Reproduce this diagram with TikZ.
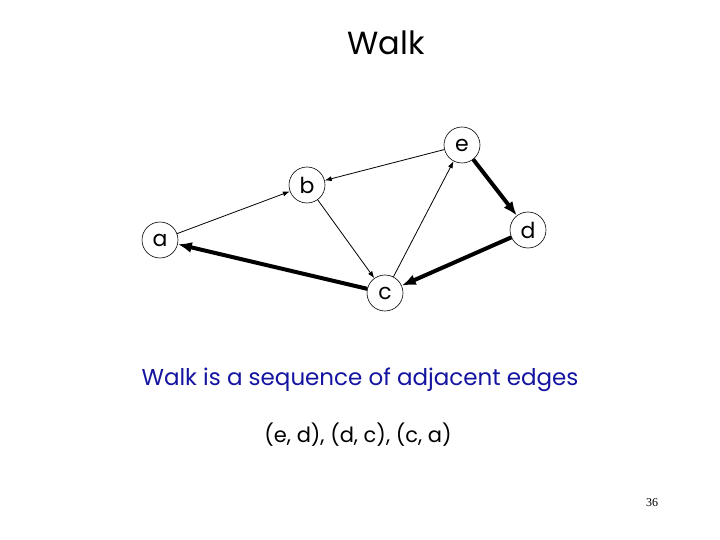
\documentclass[tikz,border=0pt]{standalone}
\usepackage{fontspec}
\setmainfont{Poppins}
\newfontfamily\numfont{Liberation Serif}
\usetikzlibrary{arrows.meta}
\definecolor{txtblue}{RGB}{20,20,160}
\begin{document}
\begin{tikzpicture}[x=1pt,y=-1pt,
  vert/.style={circle,draw,line width=0.6pt,minimum size=36pt,inner sep=0pt,font=\fontsize{22}{24}\selectfont},
  thin/.style={-{Latex[length=7pt,width=5pt]},line width=0.8pt},
  thick/.style={-{Latex[length=14pt,width=11pt]},line width=4pt}]
\useasboundingbox (0,0) rectangle (720,540);
\node (title) at (386,43) {\fontsize{32}{36}\selectfont Walk};
\node[vert] (a) at (160,240) {a};
\node[vert] (b) at (307,185) {b};
\node[vert] (e) at (462,145) {e};
\node[vert] (d) at (528,230) {d};
\node[vert] (c) at (385,293) {c};
\draw[thin] (a) -- (b);
\draw[thin] (e) -- (b);
\draw[thin] (b) -- (c);
\draw[thin] (c) -- (e);
\draw[thick] (e) -- (d);
\draw[thick] (d) -- (c);
\draw[thick] (c) -- (a);
\node[text=txtblue] (t1) at (360,380) {\fontsize{23}{26}\selectfont Walk is a sequence of adjacent edges};
\node (t2) at (358,435) {\fontsize{21}{24}\selectfont (e, d), (d, c), (c, a)};
\node (pn) at (652,503) {\numfont\fontsize{12}{14}\selectfont 36};
\end{tikzpicture}
\end{document}
